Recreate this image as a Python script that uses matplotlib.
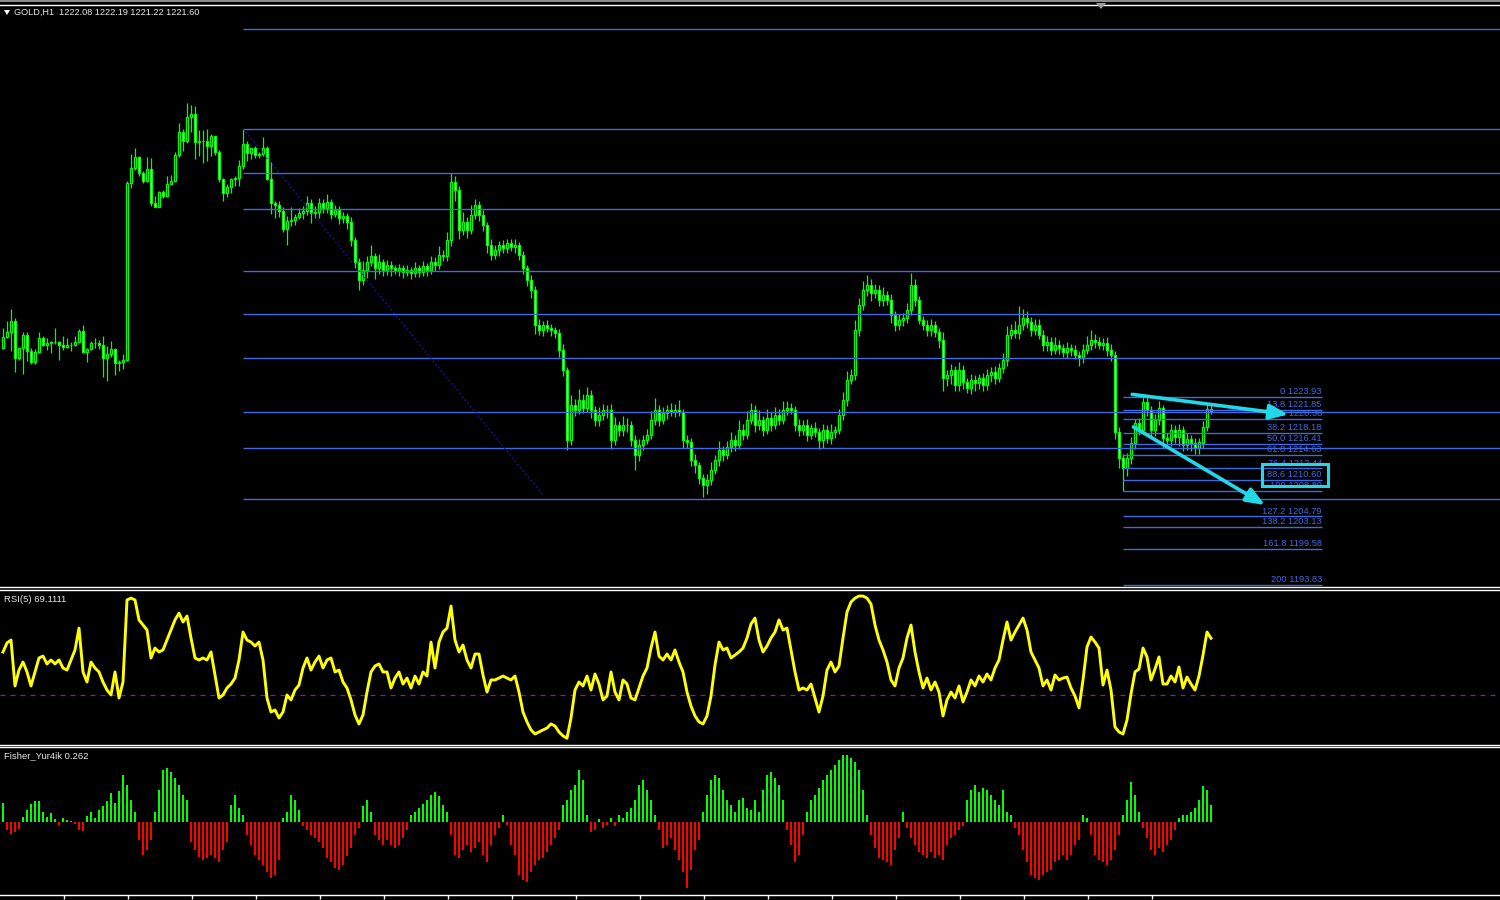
import numpy as np
import matplotlib
matplotlib.use("Agg")
import matplotlib.pyplot as plt
from matplotlib.patches import Rectangle, Polygon

# ---- data --------------------------------------------------------------
symbol = "GOLD,H1"
last_ohlc = [1222.08, 1222.19, 1221.22, 1221.60]
first_open = 1231.7

closes = [
    1233.5, 1234.3, 1236.0, 1230.1, 1231.7, 1233.8, 1231.2, 1229.5, 1231.1, 1233.3,
    1232.2, 1232.5, 1232.7, 1232.7, 1232.2, 1231.9, 1232.2, 1232.2, 1232.7, 1234.4,
    1231.1, 1231.6, 1232.5, 1232.5, 1232.2, 1230.1, 1230.8, 1231.6, 1229.3, 1229.5,
    1229.8, 1258.1, 1260.5, 1262.3, 1259.7, 1258.4, 1260.4, 1254.9, 1254.3, 1256.7,
    1256.0, 1258.0, 1258.4, 1262.6, 1266.3, 1264.8, 1268.7, 1269.2, 1264.7, 1264.8,
    1264.8, 1264.0, 1265.6, 1263.1, 1258.8, 1256.5, 1257.5, 1258.8, 1258.9, 1260.8,
    1264.4, 1262.9, 1263.7, 1262.6, 1262.8, 1263.7, 1258.8, 1254.9, 1254.6, 1253.6,
    1250.8, 1252.0, 1252.2, 1252.7, 1253.3,
    1253.6, 1254.9, 1253.3, 1253.5, 1254.9, 1254.1, 1255.1, 1253.2, 1253.8, 1252.5, 1252.8,
    1251.9, 1249.0, 1245.5, 1242.6, 1244.2, 1245.5, 1246.4, 1244.5, 1245.5, 1244.2,
    1245.0, 1244.5, 1244.2, 1244.5, 1243.9, 1244.2, 1243.7, 1244.5, 1243.9, 1244.8,
    1244.2, 1245.5, 1245.0, 1246.6, 1246.4, 1249.0,
    1258.3, 1257.0, 1250.6, 1251.9, 1250.6, 1253.0, 1254.6, 1253.0, 1251.4, 1248.2,
    1246.6, 1247.4, 1248.2, 1247.7, 1248.5, 1247.9, 1248.2, 1246.6, 1244.5, 1242.6, 1241.0,
    1235.4, 1234.6, 1235.4, 1234.9, 1234.6, 1234.1, 1231.4, 1228.2,
    1217.0, 1222.6, 1221.8, 1223.4, 1222.1, 1224.2, 1221.8, 1220.2, 1221.0, 1221.8, 1221.8,
    1217.0, 1219.4, 1218.6, 1219.4, 1219.4, 1217.0, 1214.6, 1216.2, 1217.0, 1217.8,
    1220.2, 1221.8, 1220.2, 1221.3, 1221.8, 1221.5, 1221.8, 1221.5,
    1217.0, 1216.7, 1213.8, 1213.0, 1210.9, 1209.8, 1210.6, 1212.2, 1213.8, 1215.4,
    1214.6, 1215.9, 1217.0, 1216.2, 1218.6, 1217.8, 1220.2, 1221.8, 1219.4, 1220.2,
    1218.6, 1220.5, 1219.4, 1221.0, 1220.2, 1221.8, 1222.1, 1221.8, 1219.4, 1218.6,
    1219.4, 1217.8, 1218.9, 1218.3, 1217.0, 1218.6, 1217.3, 1218.3, 1218.6,
    1221.0, 1223.4, 1226.6, 1227.4, 1234.6, 1238.6, 1241.0, 1241.8, 1240.5, 1241.0,
    1239.4, 1240.2, 1239.4, 1237.0, 1235.4, 1236.2, 1236.5, 1237.8, 1241.8, 1239.4,
    1236.2, 1235.4, 1234.6, 1235.4, 1234.3, 1233.0,
    1226.9, 1227.4, 1228.2, 1225.8, 1228.2, 1226.3, 1225.3, 1226.6, 1226.1, 1226.9,
    1225.8, 1227.4, 1227.9, 1226.9, 1228.5, 1229.8,
    1233.8, 1234.6, 1234.1, 1235.4, 1236.5, 1235.9, 1234.6, 1235.4, 1233.8, 1232.2,
    1232.7, 1231.4, 1232.2, 1231.7, 1231.1, 1231.7, 1231.4, 1230.6, 1230.1, 1231.4,
    1232.2, 1233.0, 1232.7, 1232.2, 1232.5, 1231.4,
    1230.6, 1218.3, 1214.1, 1212.5, 1214.1, 1216.5, 1219.7, 1218.6, 1223.1, 1221.8,
    1218.6, 1220.2, 1222.1, 1217.3, 1217.0, 1218.6, 1217.5, 1218.6, 1216.2, 1217.2,
    1216.5, 1215.7, 1216.6, 1219.1, 1222.0, 1221.6,
]

wick_up = [
    1.5, 1.7, 1.9, 0.6, 0.1, 0.4, 0.5, 0.6, 0.4, 1.0, 0.3, 0.8, 0.1, 2.3, 0.2, 1.4, 1.1, 0.4, 0.9, 0.3,
    1.0, 0.1, 0.4, 0.8, 0.5, 1.5, 1.2, 1.2, 0.2, 0.3, 0.9, 0.3, 2.3, 1.4, 0.2, 0.4, 1.9, 1.7, 1.1, 0.1,
    0.3, 1.3, 1.0, 0.5, 1.5, 0.5, 2.2, 1.4, 1.2, 1.8, 1.8, 1.9, 0.4, 0.1, 0.3, 0.2, 0.5, 0.2, 0.4, 1.0,
    2.4, 0.4, 0.1, 0.3, 0.3, 1.7, 0.4, 2.7, 0.3, 0.7, 0.7, 0.9, 2.0, 0.5, 0.8,
    0.8, 1.2, 0.6, 1.0, 0.8, 0.6, 1.2, 0.5, 0.8, 0.6, 0.7, 0.6, 0.8, 0.5, 0.6, 1.4, 1.0, 1.8, 0.6, 1.2,
    0.5, 0.8, 0.6, 0.5, 0.7, 0.5, 0.8, 0.4, 0.9, 0.5, 0.8, 0.6, 1.0, 0.7, 1.5, 0.8, 1.2, 1.4, 0.9, 0.6,
    1.5, 0.7, 1.6, 1.0, 0.6, 0.8, 0.5, 1.0, 0.8, 0.6, 0.8, 0.6, 0.7, 1.0, 0.4, 0.6, 0.5, 0.8, 0.6, 0.9,
    0.7, 0.8, 0.6, 0.5, 0.7, 1.0, 0.5, 1.6, 0.9, 1.8, 1.0, 1.2, 0.8, 0.7, 1.2, 0.9, 0.8, 1.0, 1.3, 0.6,
    1.5, 1.1, 0.6, 0.8, 1.0, 0.8, 1.0, 1.4, 1.9, 0.8, 1.0, 0.8, 1.2, 0.9, 1.6, 0.5, 0.8, 0.6, 0.9, 0.5,
    0.7, 1.0, 1.2, 0.8, 1.4, 0.6, 1.0, 1.3, 0.8, 1.6, 0.9, 1.5, 1.2, 0.8, 1.6, 0.7, 1.4, 1.0, 1.2, 0.9,
    1.4, 1.1, 0.8, 0.6, 1.0, 0.8, 0.9, 0.7, 1.0, 0.6, 1.0, 0.8, 1.2, 0.7, 0.9, 1.2, 1.4, 1.0, 1.6, 1.2,
    1.5, 1.6, 0.9, 1.0, 0.8, 1.2, 0.7, 0.9, 0.6, 1.0, 0.8, 1.2, 1.9, 1.0, 0.7, 0.6, 0.8, 0.9, 0.7, 0.6,
    1.2, 0.8, 1.0, 0.7, 1.2, 0.8, 0.7, 1.0, 0.8, 0.6, 0.8, 0.9, 0.7, 1.0, 0.8, 1.2, 1.5, 1.0, 1.4, 3.0,
    1.5, 1.2, 0.8, 1.0, 0.9, 0.8, 1.0, 0.7, 1.2, 0.8, 0.6, 0.9, 0.7, 0.8, 0.6, 1.0, 1.4, 1.6, 1.0, 0.8,
    0.8, 1.0, 0.9, 0.6, 0.8, 0.7, 0.9, 1.0, 0.6, 0.8, 1.3, 0.8, 0.7, 1.0, 1.2, 0.5, 0.8, 0.9, 0.8, 1.0,
    0.7, 0.9, 0.6, 0.8, 0.7, 0.9, 1.0, 0.6,
]

wick_dn = [
    0.2, 0.2, 3.0, 2.2, 0.3, 4.2, 1.5, 0.3, 0.4, 0.2, 0.2, 0.8, 1.6, 0.3, 2.4, 0.5, 0.2, 0.9, 0.2, 0.2,
    0.2, 1.6, 0.2, 0.7, 0.7, 3.0, 3.7, 0.5, 1.9, 1.2, 1.2, 0.1, 0.8, 0.3, 0.5, 0.3, 0.1, 0.5, 0.1, 0.1,
    0.2, 0.1, 0.1, 0.1, 0.3, 1.6, 0.2, 2.5, 2.8, 2.2, 3.5, 2.4, 1.5, 0.5, 0.6, 1.2, 0.6, 0.9, 1.2, 1.3,
    0.5, 1.2, 0.9, 0.4, 0.4, 0.3, 0.2, 1.7, 2.1, 0.9, 0.5, 2.6, 0.7, 0.8, 0.4,
    0.9, 0.6, 1.5, 0.8, 1.0, 0.7, 0.8, 0.9, 0.6, 1.0, 0.8, 1.2, 0.9, 1.0, 1.6, 0.8, 1.3, 0.6, 1.8, 0.9,
    1.0, 0.8, 1.2, 0.6, 1.0, 0.9, 0.7, 1.0, 0.6, 0.8, 0.6, 0.9, 0.7, 1.0, 0.6, 0.8, 0.7, 1.0, 1.8, 1.5,
    0.8, 1.2, 0.7, 0.6, 1.0, 0.9, 1.2, 0.8, 0.6, 0.9, 0.7, 0.8, 0.6, 1.0, 0.8, 0.9, 1.0, 1.2, 1.5, 0.8,
    0.9, 0.7, 1.0, 0.8, 1.2, 1.0, 1.6, 0.8, 1.0, 0.7, 0.8, 0.6, 1.3, 1.0, 0.9, 0.8, 1.2, 1.5, 0.8, 1.0,
    0.9, 1.2, 1.0, 2.4, 0.9, 0.8, 0.7, 0.6, 0.8, 1.0, 0.7, 0.9, 0.6, 0.8, 0.7, 1.2, 1.0, 0.9, 1.2, 1.0,
    1.9, 1.4, 0.8, 0.7, 0.9, 1.0, 0.7, 0.8, 1.0, 0.6, 0.8, 0.7, 0.6, 1.2, 0.8, 1.0, 0.7, 0.9, 0.6, 0.8,
    0.7, 0.8, 0.6, 1.0, 0.9, 0.8, 1.0, 0.7, 0.8, 1.4, 1.2, 0.8, 1.0, 0.9, 0.7, 0.8, 1.0, 0.6, 0.8, 1.0,
    0.8, 1.0, 1.2, 0.7, 0.9, 1.0, 0.8, 1.2, 1.0, 0.8, 0.9, 0.7, 0.8, 1.0, 0.6, 0.8, 0.9, 1.0, 0.8, 1.2,
    2.0, 1.2, 1.5, 0.9, 1.0, 1.2, 0.8, 1.0, 1.3, 0.9, 1.0, 0.8, 1.2, 0.9, 0.7, 0.8, 0.9, 0.7, 0.8, 1.0,
    0.8, 0.9, 1.0, 0.8, 0.7, 0.9, 1.0, 0.8, 0.7, 0.9, 0.8, 1.0, 0.9, 0.7, 1.2, 0.8, 0.6, 0.8, 0.9, 0.7,
    0.8, 0.9, 1.0, 1.2, 1.6, 3.6, 1.2, 1.0, 0.9, 0.8, 0.7, 1.0, 1.3, 0.9, 0.8, 1.6, 1.2, 1.0, 0.9, 1.4,
    1.0, 0.8, 1.2, 0.9, 1.0, 0.8, 0.6, 0.5,
]

rsi5 = [
    59.7, 65.9, 67.9, 36.4, 47.3, 52.8, 46.0, 36.4, 46.0, 55.6,
    56.9, 51.5, 54.2, 51.5, 54.2, 48.7, 47.3, 54.2, 61.1, 76.1,
    46.0, 39.1, 52.8, 48.7, 46.0, 39.1, 33.6, 30.2, 46.0, 28.1,
    39.1, 95.4, 96.7, 95.4, 81.7, 78.2, 74.8, 55.6, 62.4, 59.7,
    61.1, 67.9, 74.8, 81.7, 86.4, 80.3, 84.4, 69.3, 55.6, 54.2,
    55.6, 54.2, 59.7, 43.9, 28.1, 30.2, 35.0, 37.7, 41.8, 54.2,
    73.4, 67.9, 66.5, 63.8, 66.5, 54.2, 28.1, 18.5, 19.9, 14.4,
    18.5, 30.2, 26.8, 33.6, 37.0, 48.7, 55.6, 47.3, 52.8, 56.9,
    48.7, 54.2, 55.6, 46.0, 47.3, 39.1, 35.0, 26.8, 16.5, 10.3,
    16.5, 32.2, 46.0, 50.1, 51.5, 46.0, 46.0, 35.0, 41.8, 46.0,
    37.7, 41.8, 35.0, 43.2, 37.7, 46.0, 43.2, 66.5, 48.7, 66.5,
    73.4, 76.1, 91.2, 67.9, 59.7, 64.5, 54.2, 48.7, 58.3, 58.3,
    43.9, 32.2, 40.5, 40.5, 41.8, 43.2, 41.8, 40.5, 43.2, 32.2,
    18.5, 11.7, 6.2, 3.4, 4.8, 6.2, 7.5, 10.3, 8.9, 4.8,
    2.1, 0.5, 14.4, 33.6, 39.1, 36.4, 43.2, 33.6, 44.6, 37.7,
    26.8, 29.5, 46.0, 32.2, 26.8, 40.5, 37.7, 28.1, 26.8, 35.0,
    43.2, 48.7, 62.4, 73.4, 56.9, 54.2, 58.3, 54.2, 61.1, 52.8,
    46.0, 32.2, 22.6, 15.8, 11.7, 10.3, 15.8, 29.5, 50.8, 66.5,
    61.1, 62.4, 55.6, 57.6, 59.7, 62.4, 69.3, 78.9, 83.0, 67.9,
    59.7, 63.8, 69.3, 73.4, 81.7, 74.8, 76.1, 61.1, 46.0, 33.6,
    35.0, 33.6, 37.7, 28.1, 18.5, 29.5, 47.3, 52.8, 46.0, 50.1,
    69.3, 87.1, 94.0, 96.7, 98.1, 98.1, 96.7, 92.6, 78.2, 67.9,
    61.1, 52.8, 40.5, 36.4, 48.7, 55.6, 69.3, 78.2, 59.7, 46.0,
    35.0, 41.8, 33.6, 39.1, 32.2, 15.8, 26.8, 32.2, 28.1, 36.4,
    25.4, 32.2, 40.5, 36.4, 43.2, 39.1, 44.6, 40.5, 48.7, 54.2,
    67.9, 80.3, 67.9, 73.4, 78.2, 83.0, 74.8, 59.7, 54.2, 48.7,
    36.4, 40.5, 33.6, 43.9, 40.5, 41.8, 42.5, 35.0, 29.5, 21.3,
    40.5, 63.1, 70.0, 66.5, 62.4, 37.0, 47.3, 33.6, 8.2, 4.8,
    3.4, 13.0, 30.9, 46.0, 48.0, 62.4, 56.3, 40.5, 48.0, 56.3,
    37.7, 37.7, 43.2, 39.1, 49.4, 35.0, 42.5, 37.7, 33.6, 43.2,
    57.6, 73.4, 69.1111,
]
rsi_level = 30

fisher = [
    0.30, -0.12, -0.18, -0.16, -0.10, 0.08, 0.18, 0.28, 0.32, 0.33,
    0.15, 0.08, 0.14, 0.05, -0.05, 0.06, 0.03, 0.02, -0.03, -0.12,
    -0.14, 0.10, 0.15, 0.06, 0.18, 0.25, 0.33, 0.45, 0.30, 0.48,
    0.72, 0.57, 0.34, 0.15, -0.28, -0.51, -0.43, -0.28, 0.15, 0.49,
    0.80, 0.83, 0.77, 0.68, 0.57, 0.42, 0.34, -0.31, -0.43, -0.54,
    -0.58, -0.55, -0.51, -0.55, -0.62, -0.43, -0.31, 0.26, 0.42, 0.22,
    0.11, -0.20, -0.35, -0.51, -0.58, -0.66, -0.77, -0.86, -0.82, -0.58,
    0.06, 0.15, 0.42, 0.34, 0.18, -0.06, -0.12, -0.20, -0.25, -0.31,
    -0.40, -0.55, -0.62, -0.71, -0.74, -0.66, -0.52, -0.40, -0.20, -0.09,
    0.25, 0.34, 0.15, -0.20, -0.28, -0.35, -0.28, -0.35, -0.40, -0.35,
    -0.25, -0.12, 0.11, 0.15, 0.22, 0.28, 0.34, 0.42, 0.46, 0.40,
    0.26, 0.15, -0.20, -0.51, -0.55, -0.43, -0.35, -0.46, -0.40, -0.31,
    -0.51, -0.62, -0.35, -0.20, -0.09, 0.11, -0.05, -0.35, -0.51, -0.82,
    -0.89, -0.92, -0.77, -0.66, -0.58, -0.55, -0.46, -0.35, -0.25, -0.12,
    0.26, 0.34, 0.49, 0.57, 0.80, 0.65, 0.11, -0.15, -0.12, 0.05,
    -0.09, -0.05, 0.06, -0.06, 0.11, 0.06, 0.15, 0.22, 0.34, 0.57,
    0.65, 0.49, 0.34, 0.11, -0.12, -0.40, -0.35, -0.25, -0.43, -0.58,
    -0.77, -1.02, -0.74, -0.43, -0.28, 0.15, 0.42, 0.65, 0.72, 0.68,
    0.49, 0.34, 0.26, 0.15, 0.34, 0.37, 0.22, 0.18, 0.34, 0.15,
    0.49, 0.72, 0.77, 0.68, 0.57, 0.34, -0.12, -0.35, -0.62, -0.51,
    -0.20, 0.15, 0.34, 0.42, 0.52, 0.65, 0.72, 0.80, 0.88, 0.95,
    1.03, 1.03, 0.98, 0.92, 0.80, 0.49, 0.11, -0.20, -0.40, -0.55,
    -0.58, -0.62, -0.66, -0.43, -0.25, 0.15, -0.09, -0.25, -0.35, -0.46,
    -0.51, -0.55, -0.46, -0.55, -0.51, -0.58, -0.35, -0.25, -0.20, -0.12,
    -0.06, 0.34, 0.49, 0.57, 0.46, 0.52, 0.49, 0.42, 0.34, 0.26,
    0.49, 0.15, 0.11, -0.09, -0.20, -0.43, -0.62, -0.82, -0.86, -0.89,
    -0.82, -0.77, -0.74, -0.62, -0.58, -0.51, -0.58, -0.51, -0.35, -0.28,
    0.11, 0.06, -0.20, -0.51, -0.58, -0.62, -0.66, -0.58, -0.43, -0.20,
    0.11, 0.34, 0.62, 0.42, 0.15, -0.09, -0.25, -0.43, -0.51, -0.40,
    -0.46, -0.35, -0.28, -0.12, 0.06, 0.11, 0.11, 0.15, 0.22, 0.34,
    0.55, 0.49, 0.262,
]

# big fibonacci (swing high at bar 60 down to bar 135), levels extend to the right
big_fib_start = 60
big_fib_levels = [1282.7, 1266.8, 1259.8, 1253.9, 1244.0, 1237.1, 1230.1, 1221.4, 1215.7, 1207.5]
big_fib_trend = [(60, 1266.8), (135, 1208.2)]

# small fibonacci on the right
small_fib_span = (280, 329.7)
small_fib_pct = ["0", "13.8", "23.6", "38.2", "50.0", "61.8", "76.4", "88.6", "100",
                 "127.2", "138.2", "161.8", "200"]
small_fib_price = [1223.93, 1221.85, 1220.38, 1218.18, 1216.41, 1214.63, 1212.44, 1210.60,
                   1208.89, 1204.79, 1203.13, 1199.58, 1193.83]

# hand-drawn objects (bar index, price)
arrows = [((282.3, 1224.3), (321.3, 1221.1)),
          ((282.6, 1219.1), (315.5, 1206.6))]
box = (314.7, 1209.6, 331.3, 1213.2)

# ---- styling -------------------------------------------------------------
BG = "black"
LIME = "#00ff00"
FIB = "#4169e1"
CYAN = "#22d8e8"
FONT = "Liberation Sans"
W, H = 1500, 900

fig = plt.figure(figsize=(15, 9), dpi=100, facecolor=BG)


def pane(top_px, bottom_px):
    ax = fig.add_axes([0, 1 - bottom_px / H, 1, (bottom_px - top_px) / H])
    ax.set_facecolor(BG)
    for s in ("left", "right"):
        ax.spines[s].set_visible(False)
    for s in ("top", "bottom"):
        ax.spines[s].set_color("white")
        ax.spines[s].set_linewidth(1)
    ax.set_xticks([])
    ax.set_yticks([])
    ax.set_xlim(-0.75, 374.25)
    return ax


ax = pane(4.5, 587)
ax_rsi = pane(589.5, 744.5)
ax_fi = pane(746.5, 895)

n = len(closes)
x = np.arange(n)
c = np.array(closes)
o = np.array([first_open] + closes[:-1])
hi = np.maximum(o, c) + np.array(wick_up)
lo = np.minimum(o, c) - np.array(wick_dn)

# candles
ax.vlines(x, lo, hi, color=LIME, lw=0.9, zorder=2)
bull = c >= o
body = np.maximum(np.abs(c - o), 0.04)
ax.bar(x, body, bottom=np.minimum(o, c), width=0.66,
       color=np.where(bull, "black", "white"), edgecolor=LIME, linewidth=0.9, zorder=3)
ax.set_ylim(1193.48, 1286.68)

# big fibo
ax.hlines(big_fib_levels, big_fib_start, 380, color=FIB, lw=1, zorder=4)
tx, ty = zip(*big_fib_trend)
ax.plot(tx, ty, color="#1a1ad0", lw=1, ls=(0, (1, 2)), zorder=4)

# small fibo
ax.hlines(small_fib_price, small_fib_span[0], small_fib_span[1], color=FIB, lw=1, zorder=4)
for pct, p in zip(small_fib_pct, small_fib_price):
    ax.text(small_fib_span[1], p + 0.12, f"{pct} {p:.2f}", ha="right", va="bottom",
            color=FIB, fontsize=6.7, family=FONT, zorder=5)

# drawn objects
for start, end in arrows:
    ax.annotate("", xy=end, xytext=start,
                arrowprops=dict(arrowstyle="-|>,head_length=0.8,head_width=0.32",
                                color=CYAN, lw=2.6, mutation_scale=14,
                                shrinkA=0, shrinkB=0), zorder=6)
ax.add_patch(Rectangle((box[0], box[1]), box[2] - box[0], box[3] - box[1],
                       fill=False, edgecolor=CYAN, lw=2.2, zorder=6))

# RSI
ax_rsi.plot(x, rsi5, color="#ffff00", lw=2.1, zorder=3)
ax_rsi.axhline(rsi_level, color="#8b1c8b", lw=0.9, ls=(0, (4, 4)), zorder=2)
ax_rsi.set_ylim(-3.8, 102.6)

# Fisher histogram
f = np.array(fisher)
ax_fi.bar(x, f, width=0.74, color=np.where(f > 0, LIME, "#ff0000"), linewidth=0)
ax_fi.set_ylim(-1.123, 1.1615)
ax_fi.set_xticks(np.arange(15.15, n, 16))
ax_fi.tick_params(axis="x", direction="out", length=3, width=1, color="white",
                  labelbottom=False)

# chrome
fig.add_artist(Rectangle((0, 1 - 2 / H), 1, 2 / H, transform=fig.transFigure,
                         color="#8a8a8a", lw=0))
fig.add_artist(Polygon([(1096 / W, 1 - 3 / H), (1106 / W, 1 - 3 / H), (1101 / W, 1 - 9 / H)],
                       closed=True, transform=fig.transFigure, color="#9a9a9a", lw=0))
fig.add_artist(Polygon([(4 / W, 1 - 10 / H), (10 / W, 1 - 10 / H), (7 / W, 1 - 15 / H)],
                       closed=True, transform=fig.transFigure, color="white", lw=0))

title = f"{symbol}  " + " ".join(f"{v:.2f}" for v in last_ohlc)
fig.text(14 / W, 1 - 12.5 / H, title, color="#e8e8e8", fontsize=6.6, family=FONT, va="center")
fig.text(4 / W, 1 - 599 / H, f"RSI(5) {rsi5[-1]:.4f}", color="#e8e8e8", fontsize=6.8,
         family=FONT, va="center")
fig.text(4 / W, 1 - 755.5 / H, f"Fisher_Yur4ik {fisher[-1]:.3f}", color="#e8e8e8",
         fontsize=6.8, family=FONT, va="center")

fig.savefig("out.png", dpi=100, facecolor=BG)
